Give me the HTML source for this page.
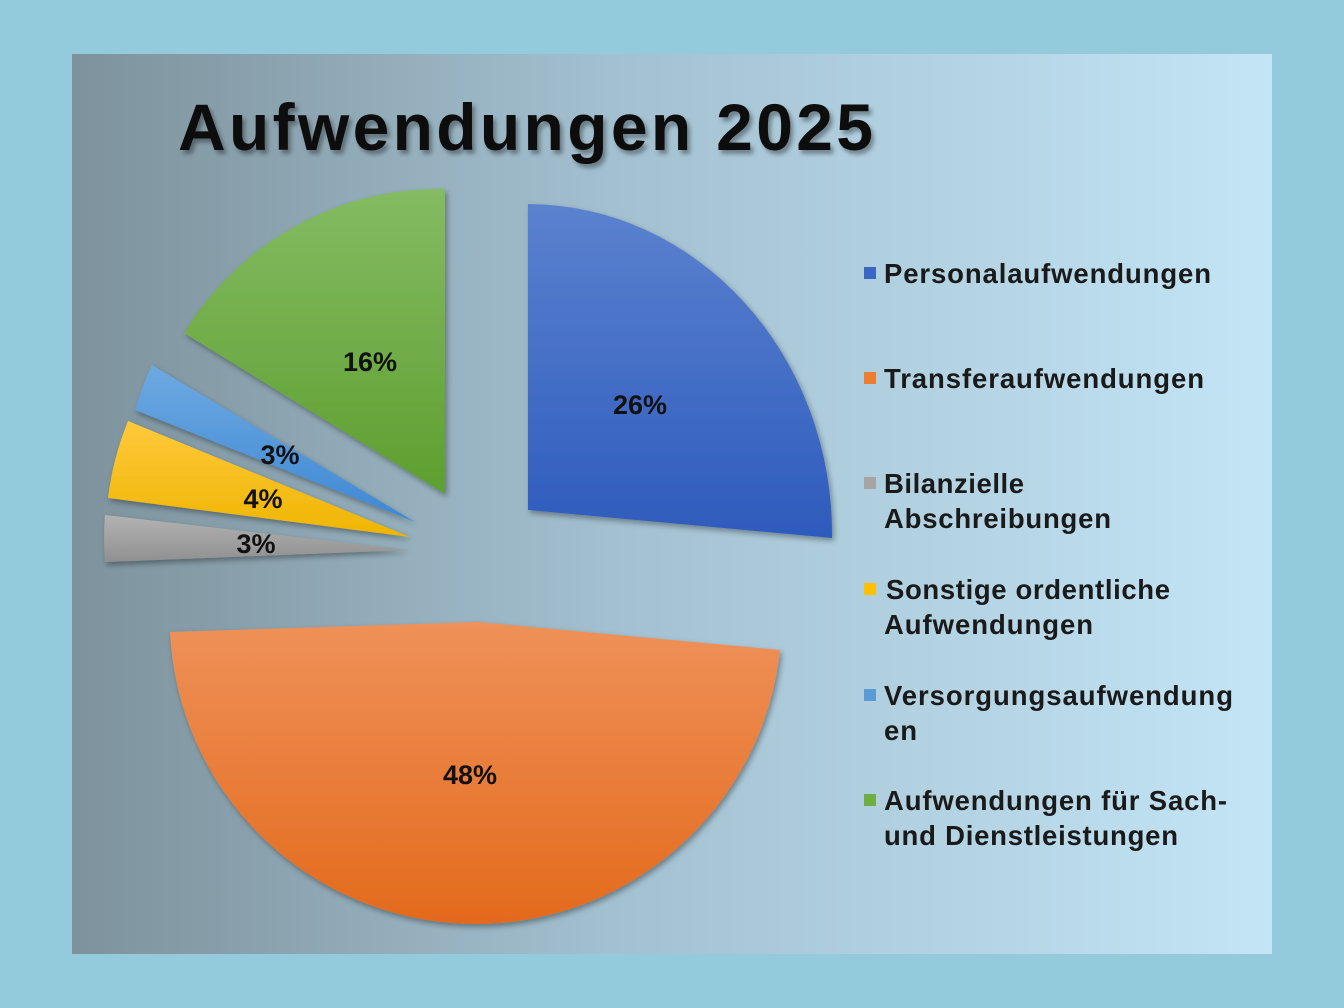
<!DOCTYPE html>
<html><head><meta charset="utf-8"><style>
html,body{margin:0;padding:0;background:#93cbdd;}
svg{display:block;}
</style></head><body>
<svg width="1344" height="1008" viewBox="0 0 1344 1008" xmlns="http://www.w3.org/2000/svg">
<defs>
<linearGradient id="bg" x1="0" y1="0" x2="1" y2="0">
<stop offset="0" stop-color="#7d929c"/><stop offset="0.45" stop-color="#a3c0d0"/><stop offset="1" stop-color="#c3e5f5"/></linearGradient>
<linearGradient id="gB" x1="0" y1="0" x2="0" y2="1"><stop offset="0" stop-color="#5b82cf"/><stop offset="1" stop-color="#2e5bbd"/></linearGradient>
<linearGradient id="gO" x1="0" y1="0" x2="0" y2="1"><stop offset="0" stop-color="#ef9159"/><stop offset="1" stop-color="#e36a1c"/></linearGradient>
<linearGradient id="gG" x1="0" y1="0" x2="0" y2="1"><stop offset="0" stop-color="#84bb63"/><stop offset="1" stop-color="#5e9f2f"/></linearGradient>
<linearGradient id="gY" x1="0" y1="0" x2="0" y2="1"><stop offset="0" stop-color="#ffc93c"/><stop offset="1" stop-color="#efb500"/></linearGradient>
<linearGradient id="gR" x1="0" y1="0" x2="0" y2="1"><stop offset="0" stop-color="#b3b3b3"/><stop offset="1" stop-color="#909090"/></linearGradient>
<linearGradient id="gL" x1="0" y1="0" x2="0" y2="1"><stop offset="0" stop-color="#6da9e1"/><stop offset="1" stop-color="#3e88d4"/></linearGradient>
<filter id="sh" x="-10%" y="-10%" width="120%" height="120%"><feDropShadow dx="2" dy="3" stdDeviation="3" flood-color="#000" flood-opacity="0.35"/></filter>
<filter id="ts"><feDropShadow dx="3" dy="4" stdDeviation="2" flood-color="#000" flood-opacity="0.35"/></filter>
</defs>
<rect x="72" y="54" width="1200" height="900" fill="url(#bg)"/>
<text x="178" y="150" font-family="Liberation Sans, sans-serif" font-weight="bold" font-size="66" fill="#111" textLength="695" lengthAdjust="spacing" filter="url(#ts)">Aufwendungen 2025</text>
<g filter="url(#sh)">
<path d="M528,510 L528,204 A305,330 0 0 1 832,538 Z" fill="url(#gB)"/>
<path d="M478,622 L780,650 A306,306 0 0 1 170,632 Z" fill="url(#gO)"/>
<path d="M445,494 L184,333 A300,305 0 0 1 445,189 Z" fill="url(#gG)"/>
<path d="M408,550 L105,562 A300,300 0 0 1 105,515 Z" fill="url(#gR)"/>
<path d="M410,537 L108,498 A300,300 0 0 1 128,421 Z" fill="url(#gY)"/>
<path d="M415,522 L135,410 A300,300 0 0 1 152,365 Z" fill="url(#gL)"/>
</g>
<g font-family="Liberation Sans, sans-serif" font-weight="bold" font-size="27" fill="#111" text-anchor="middle">
<text x="640" y="414">26%</text>
<text x="470" y="784">48%</text>
<text x="370" y="371">16%</text>
<text x="280" y="464">3%</text>
<text x="263" y="508">4%</text>
<text x="256" y="553">3%</text>
</g>
<g font-family="Liberation Sans, sans-serif" font-weight="bold" font-size="27.5" fill="#1a1a1a" lengthAdjust="spacing">
<rect x="864" y="267" width="12" height="12" fill="#3b67c4"/>
<text x="884" y="283" textLength="327">Personalaufwendungen</text>
<rect x="864" y="372" width="12" height="12" fill="#ed7d31"/>
<text x="884" y="388" textLength="320">Transferaufwendungen</text>
<rect x="864" y="477" width="12" height="12" fill="#a5a5a5"/>
<text x="884" y="493" textLength="140">Bilanzielle</text>
<text x="884" y="528" textLength="227">Abschreibungen</text>
<rect x="864" y="583" width="12" height="12" fill="#ffc000"/>
<text x="886" y="599" textLength="284">Sonstige ordentliche</text>
<text x="884" y="634" textLength="209">Aufwendungen</text>
<rect x="864" y="689" width="12" height="12" fill="#5b9bd5"/>
<text x="884" y="705" textLength="349">Versorgungsaufwendung</text>
<text x="884" y="740" textLength="33">en</text>
<rect x="864" y="794" width="12" height="12" fill="#70ad47"/>
<text x="884" y="810" textLength="343">Aufwendungen für Sach-</text>
<text x="884" y="845" textLength="294">und Dienstleistungen</text>
</g>
</svg>
</body></html>
